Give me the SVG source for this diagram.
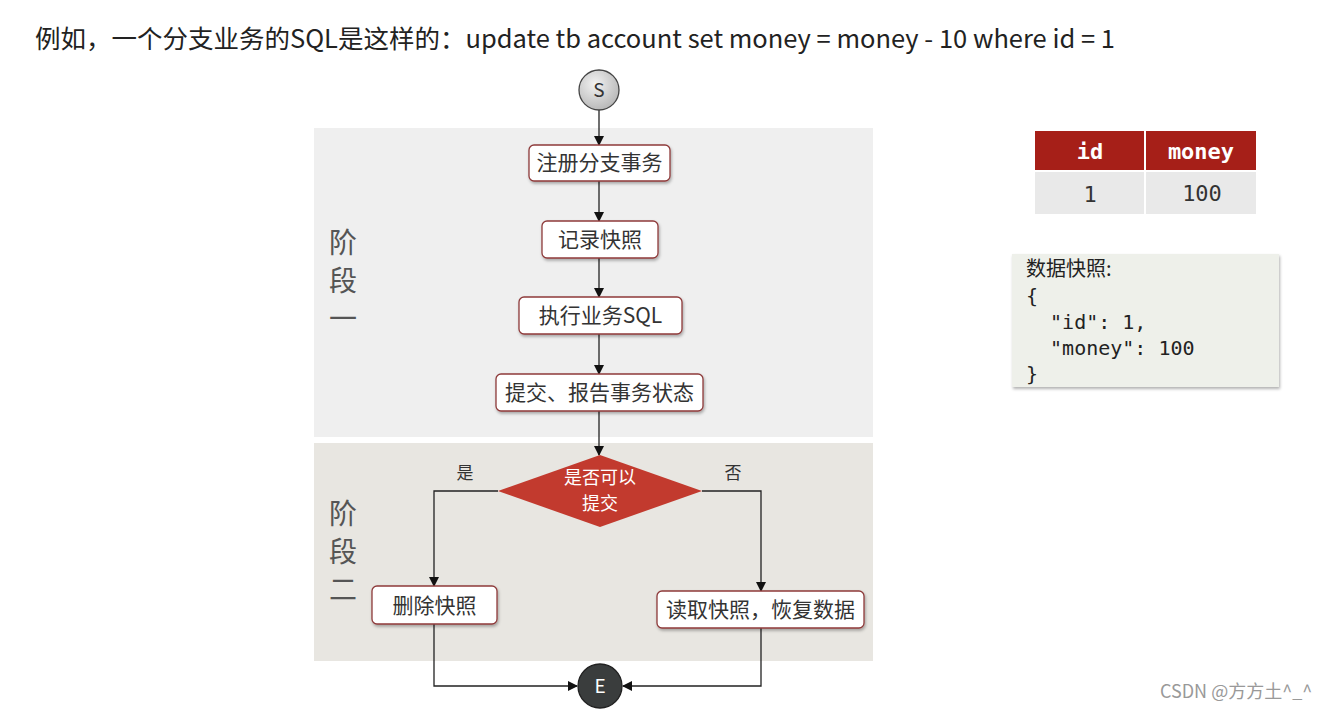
<svg xmlns="http://www.w3.org/2000/svg" width="1339" height="710" viewBox="0 0 1339 710">
<style>
.t{font-family:"Noto Sans CJK SC","Noto Sans",sans-serif;}
.box{fill:#ffffff;stroke:#8e3b3b;stroke-width:1.3;}
.bt{font-family:"Noto Sans CJK SC","Noto Sans",sans-serif;font-size:21px;fill:#333;text-anchor:middle;}
.ph{font-family:"Noto Sans CJK SC",sans-serif;font-size:28px;fill:#555;text-anchor:middle;}
.ln{fill:none;stroke:#222;stroke-width:1.3;}
.mono{font-family:"DejaVu Sans Mono","Liberation Mono",monospace;}
</style>
<defs>
<marker id="arr" markerWidth="10" markerHeight="10" refX="9" refY="5" orient="auto" markerUnits="userSpaceOnUse">
<path d="M0,0 L10,5 L0,10 z" fill="#111"/>
</marker>
<radialGradient id="sg" cx="40%" cy="35%" r="70%">
<stop offset="0" stop-color="#f2f2f2"/><stop offset="1" stop-color="#b5b5b5"/>
</radialGradient>
<filter id="sh" x="-10%" y="-10%" width="120%" height="130%">
<feDropShadow dx="1" dy="2" stdDeviation="1.5" flood-color="#000" flood-opacity="0.3"/>
</filter>
</defs>
<rect width="1339" height="710" fill="#ffffff"/>
<text class="t" x="35" y="48" font-size="25" fill="#222" textLength="1080" lengthAdjust="spacingAndGlyphs">例如，一个分支业务的SQL是这样的：update tb account set money = money - 10 where id = 1</text>

<g id="phase1">
<rect x="314" y="128" width="559" height="309" fill="#efefef"/>
<text class="ph" x="343" y="253">阶</text>
<text class="ph" x="343" y="291">段</text>
<text class="ph" x="343" y="329">一</text>
</g>
<g id="phase2">
<rect x="314" y="443" width="559" height="218" fill="#e8e6e1"/>
<text class="ph" x="343" y="524">阶</text>
<text class="ph" x="343" y="562">段</text>
<text class="ph" x="343" y="600">二</text>
</g>

<g id="connectors">
<line class="ln" x1="599" y1="110" x2="599" y2="145" marker-end="url(#arr)"/>
<line class="ln" x1="599" y1="181" x2="599" y2="221" marker-end="url(#arr)"/>
<line class="ln" x1="599" y1="258" x2="599" y2="297" marker-end="url(#arr)"/>
<line class="ln" x1="599" y1="334" x2="599" y2="374" marker-end="url(#arr)"/>
<line class="ln" x1="599" y1="411" x2="599" y2="455" marker-end="url(#arr)"/>
<polyline class="ln" points="498,491 434,491 434,586" marker-end="url(#arr)"/>
<polyline class="ln" points="702,491 761,491 761,591" marker-end="url(#arr)"/>
<polyline class="ln" points="434,624 434,686 577,686" marker-end="url(#arr)"/>
<polyline class="ln" points="761,628 761,686 623,686" marker-end="url(#arr)"/>
<text class="t" x="465" y="479" font-size="17" fill="#333" text-anchor="middle">是</text>
<text class="t" x="733" y="479" font-size="17" fill="#333" text-anchor="middle">否</text>
</g>

<g id="start">
<circle cx="599" cy="90" r="20" fill="url(#sg)" stroke="#444" stroke-width="1.3"/>
<text class="t" x="599" y="97" font-size="19" fill="#333" text-anchor="middle">S</text>
</g>
<g id="n1"><rect class="box" x="529" y="145" width="141" height="36" rx="5" filter="url(#sh)"/><text class="bt" x="599.5" y="170">注册分支事务</text></g>
<g id="n2"><rect class="box" x="542" y="221" width="116" height="37" rx="5" filter="url(#sh)"/><text class="bt" x="600" y="247">记录快照</text></g>
<g id="n3"><rect class="box" x="519" y="297" width="163" height="37" rx="5" filter="url(#sh)"/><text class="bt" x="600.5" y="323">执行业务SQL</text></g>
<g id="n4"><rect class="box" x="496" y="374" width="207" height="37" rx="5" filter="url(#sh)"/><text class="bt" x="599.5" y="400">提交、报告事务状态</text></g>
<g id="decision">
<polygon points="600,455 702,491 600,527 498,491" fill="#c23a2e"/>
<text class="t" x="600" y="484" font-size="18" fill="#fff" text-anchor="middle">是否可以</text>
<text class="t" x="600" y="510" font-size="18" fill="#fff" text-anchor="middle">提交</text>
</g>
<g id="n5"><rect class="box" x="372" y="586" width="125" height="38" rx="5" filter="url(#sh)"/><text class="bt" x="434.5" y="613">删除快照</text></g>
<g id="n6"><rect class="box" x="657" y="591" width="207" height="37" rx="5" filter="url(#sh)"/><text class="bt" x="760.5" y="617">读取快照，恢复数据</text></g>
<g id="end">
<circle cx="600" cy="686" r="22" fill="#3a3d3d" stroke="#222" stroke-width="1.3"/>
<text class="t" x="600" y="693" font-size="19" fill="#fff" text-anchor="middle">E</text>
</g>

<g id="table">
<rect x="1035" y="131" width="109" height="39" fill="#a61f18"/>
<rect x="1146" y="131" width="110" height="39" fill="#a61f18"/>
<rect x="1035" y="172" width="109" height="42" fill="#e9e9e9"/>
<rect x="1146" y="172" width="110" height="42" fill="#e9e9e9"/>
<text class="mono" x="1090" y="159" font-size="22" font-weight="bold" fill="#fff" text-anchor="middle">id</text>
<text class="mono" x="1201" y="159" font-size="22" font-weight="bold" fill="#fff" text-anchor="middle">money</text>
<text class="mono" x="1090" y="202" font-size="22" fill="#333" text-anchor="middle">1</text>
<text class="mono" x="1202" y="201" font-size="22" fill="#333" text-anchor="middle">100</text>
</g>

<g id="snapshot">
<rect x="1012" y="254" width="267" height="133" fill="#eef0ea" filter="url(#sh)"/>
<text class="t" x="1026" y="276" font-size="20" fill="#222">数据快照:</text>
<text class="mono" x="1026" y="303" font-size="20" fill="#222">{</text>
<text class="mono" x="1026" y="329" font-size="20" fill="#222" xml:space="preserve">  "id": 1,</text>
<text class="mono" x="1026" y="355" font-size="20" fill="#222" xml:space="preserve">  "money": 100</text>
<text class="mono" x="1026" y="381" font-size="20" fill="#222">}</text>
</g>

<text class="t" x="1160" y="698" font-size="18" fill="#999">CSDN @方方土^_^</text>
</svg>
